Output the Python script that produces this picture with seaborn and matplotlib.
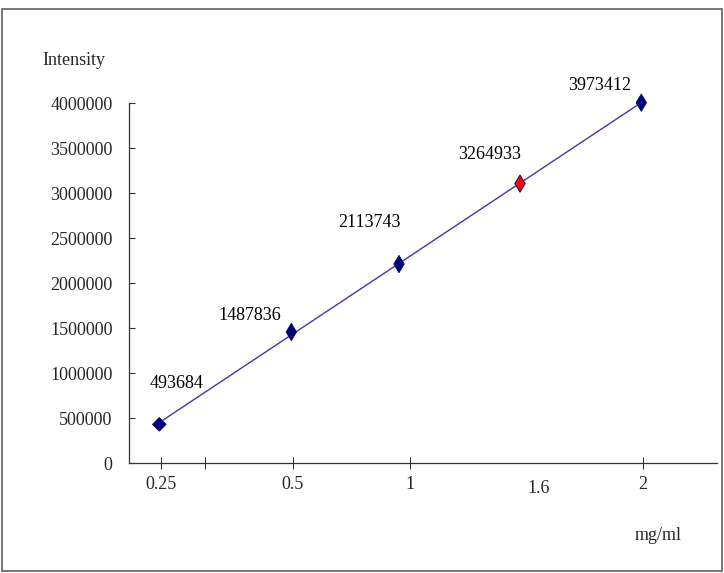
import numpy as np
import pandas as pd
import matplotlib
matplotlib.use("Agg")
import matplotlib.pyplot as plt
import seaborn as sns
from matplotlib.patches import Rectangle

# ---- data ----
x_pos = [1.593, 2.913, 3.99, 5.20, 6.413]          # positions along the x axis
intensity = [433000, 1459000, 2214000, 3108000, 4007000]
value_labels = ["493684", "1487836", "2113743", "3264933", "3973412"]
kinds = ["first", "normal", "normal", "red", "normal"]
x_tick_pos = [1.613, 2.053, 2.927, 4.099, 6.43]
x_tick_labels = ["0.25", "", "0.5", "1", "2"]
extra_x_label = "1.6"
y_ticks = [0, 500000, 1000000, 1500000, 2000000, 2500000, 3000000, 3500000, 4000000]

df = pd.DataFrame({"x": x_pos, "y": intensity, "kind": kinds})

sns.set_theme(style="white")
plt.rcParams["font.family"] = ["Liberation Serif", "DejaVu Serif"]
FS = 13

fig = plt.figure(figsize=(7.24, 5.73), dpi=100)
ax = fig.add_axes([129.3 / 724, 1 - 463.3 / 573, (717 - 129.3) / 724, (463.3 - 103.3) / 573])

# outer frame
fig.patches.append(Rectangle((2 / 724, 2 / 573), 720 / 724, 562 / 573, transform=fig.transFigure,
                             fill=False, edgecolor="#606060", lw=1.2))

sns.regplot(data=df, x="x", y="y", scatter=False, ci=None, truncate=True, ax=ax,
            line_kws=dict(color="#3c3ca0", lw=1.0))

sns.scatterplot(data=df, x="x", y="y", hue="kind", style="kind", size="kind",
                palette={"first": "#000080", "normal": "#000080", "red": "#ff0000"},
                markers={"first": "D", "normal": "d", "red": "d"},
                sizes={"first": 48, "normal": 78, "red": 78},
                edgecolor="#000060", linewidth=0.6, legend=False, ax=ax, clip_on=False, zorder=3)

offsets = [(17, 41), (-42, 16), (-30, 42), (-30, 29), (-42, 17)]
for xv, yv, lab, off in zip(x_pos, intensity, value_labels, offsets):
    ax.annotate(lab, (xv, yv), xytext=off, textcoords="offset pixels",
                ha="center", va="center", fontsize=FS, color="black",
                annotation_clip=False)

ax.set_xlim(1.293, 7.17)
ax.set_ylim(0, 4000000)
ax.set_yticks(y_ticks)
ax.set_yticklabels([str(v) for v in y_ticks], fontsize=FS)
ax.set_xticks(x_tick_pos)
ax.set_xticklabels(x_tick_labels, fontsize=FS)
ax.tick_params(axis="y", direction="in", length=4, width=0.8, color="#333333", pad=12, left=True)
ax.tick_params(axis="x", direction="inout", length=9, width=0.8, color="#333333", pad=5, bottom=True)
ax.set_xlabel("")
ax.set_ylabel("")
for s in ["top", "right"]:
    ax.spines[s].set_visible(False)
for s in ["left", "bottom"]:
    ax.spines[s].set_color("#333333")
    ax.spines[s].set_linewidth(0.9)

ax.text(5.39, -280000, extra_x_label, ha="center", va="center", fontsize=FS)

fig.text(42.7 / 724, 1 - 65 / 573, "Intensity", ha="left", va="baseline", fontsize=FS)
fig.text(658 / 724, 1 - 540 / 573, "mg/ml", ha="center", va="baseline", fontsize=FS)

fig.savefig("out.png", dpi=100)
